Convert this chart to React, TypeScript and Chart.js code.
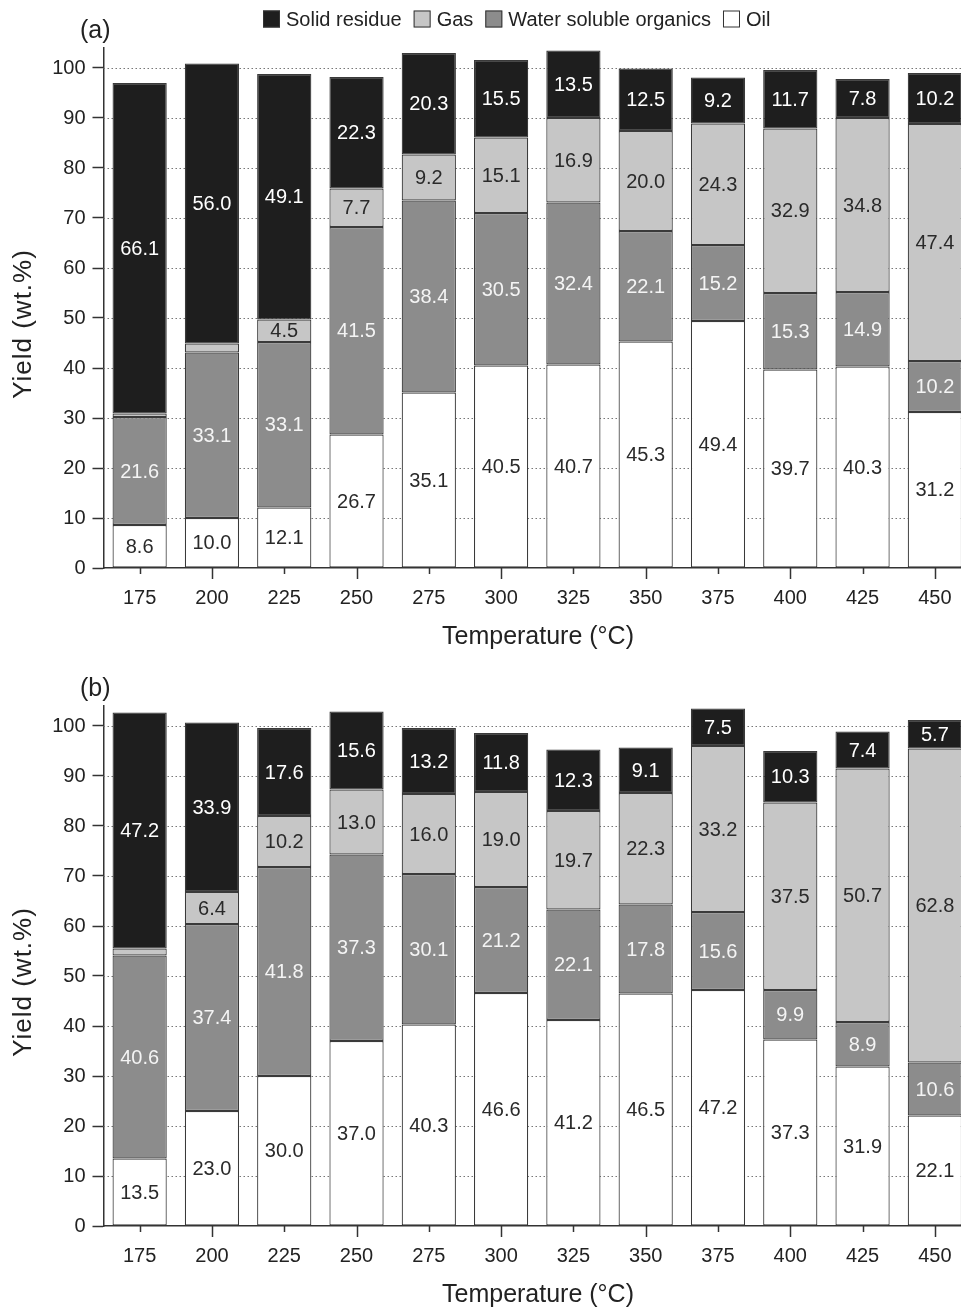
import React, { useEffect, useRef } from 'react';
import { Chart, registerables } from 'chart.js';

Chart.register(...registerables);

// ---------- data ----------
const temperatures = ['175', '200', '225', '250', '275', '300', '325', '350', '375', '400', '425', '450'];

const oilA = [8.6, 10.0, 12.1, 26.7, 35.1, 40.5, 40.7, 45.3, 49.4, 39.7, 40.3, 31.2];
const wsoA = [21.6, 33.1, 33.1, 41.5, 38.4, 30.5, 32.4, 22.1, 15.2, 15.3, 14.9, 10.2];
const gasA = [0.7, 1.8, 4.5, 7.7, 9.2, 15.1, 16.9, 20.0, 24.3, 32.9, 34.8, 47.4];
const solidA = [66.1, 56.0, 49.1, 22.3, 20.3, 15.5, 13.5, 12.5, 9.2, 11.7, 7.8, 10.2];

const oilB = [13.5, 23.0, 30.0, 37.0, 40.3, 46.6, 41.2, 46.5, 47.2, 37.3, 31.9, 22.1];
const wsoB = [40.6, 37.4, 41.8, 37.3, 30.1, 21.2, 22.1, 17.8, 15.6, 9.9, 8.9, 10.6];
const gasB = [1.4, 6.4, 10.2, 13.0, 16.0, 19.0, 19.7, 22.3, 33.2, 37.5, 50.7, 62.8];
const solidB = [47.2, 33.9, 17.6, 15.6, 13.2, 11.8, 12.3, 9.1, 7.5, 10.3, 7.4, 5.7];

const yTicks = [0, 10, 20, 30, 40, 50, 60, 70, 80, 90, 100];
const yMax = 104;

const seriesNames = ['Oil', 'Water soluble organics', 'Gas', 'Solid residue'];
const legendOrder = [3, 2, 1, 0];
const fillColors = ['#ffffff', '#8c8c8c', '#c6c6c6', '#1e1e1e'];
const labelColors = ['#2a2a2a', '#f4f4f4', '#2a2a2a', '#ffffff'];

const xTitle = 'Temperature (°C)';
const yTitle = 'Yield (wt.%)';

const FONT = '"Liberation Sans", Arial, Helvetica, sans-serif';

function makePlugin(panelLabel: string, showLegend: boolean) {
  return {
    id: 'customDraw',
    beforeDatasetsDraw(chart: any) {
      const { ctx, chartArea, scales } = chart;
      const y = scales.y;
      ctx.save();
      ctx.strokeStyle = '#777';
      ctx.lineWidth = 1;
      ctx.setLineDash([1.5, 2.5]);
      yTicks.forEach((v) => {
        if (v === 0) return;
        const py = Math.round(y.getPixelForValue(v)) + 0.5;
        ctx.beginPath();
        ctx.moveTo(chartArea.left, py);
        ctx.lineTo(chartArea.right, py);
        ctx.stroke();
      });
      ctx.restore();
    },
    afterDatasetsDraw(chart: any) {
      const { ctx, chartArea, scales } = chart;
      const x = scales.x;
      ctx.save();
      // data labels
      ctx.font = `20px ${FONT}`;
      ctx.textAlign = 'center';
      ctx.textBaseline = 'middle';
      chart.data.datasets.forEach((ds: any, di: number) => {
        const meta = chart.getDatasetMeta(di);
        meta.data.forEach((bar: any, i: number) => {
          const v = ds.data[i];
          if (v < 3) return;
          const p = bar.getProps(['x', 'y', 'base'], true);
          ctx.fillStyle = labelColors[di];
          ctx.fillText(v.toFixed(1), p.x, (p.y + p.base) / 2 + 1);
        });
      });
      // x tick marks (alternating length)
      ctx.strokeStyle = '#333';
      ctx.lineWidth = 1.5;
      temperatures.forEach((_, i) => {
        const px = Math.round(x.getPixelForValue(i)) + 0.5;
        const len = i % 2 === 1 ? 11 : 6;
        ctx.beginPath();
        ctx.moveTo(px, chartArea.bottom);
        ctx.lineTo(px, chartArea.bottom + len);
        ctx.stroke();
      });
      // x title
      ctx.fillStyle = '#222';
      ctx.font = `25px ${FONT}`;
      ctx.textAlign = 'center';
      ctx.textBaseline = 'middle';
      ctx.fillText(xTitle, 538, chartArea.bottom + 69);
      // y title
      ctx.save();
      ctx.translate(24, 324);
      ctx.rotate(-Math.PI / 2);
      ctx.font = `26px ${FONT}`;
      try {
        (ctx as any).letterSpacing = '1px';
      } catch (e) {}
      ctx.fillText(yTitle, 0, 0);
      ctx.restore();
      // panel label
      ctx.font = `25px ${FONT}`;
      ctx.textAlign = 'left';
      ctx.fillText(panelLabel, 80, 31);
      // legend
      if (showLegend) {
        ctx.font = `20px ${FONT}`;
        ctx.textBaseline = 'middle';
        let lx = 263;
        const cy = 19;
        legendOrder.forEach((di) => {
          ctx.fillStyle = fillColors[di];
          ctx.fillRect(lx, cy - 8.5, 17, 17);
          ctx.strokeStyle = '#333';
          ctx.lineWidth = 1;
          ctx.strokeRect(lx + 0.5, cy - 8, 16, 16);
          lx += 17 + 6;
          ctx.fillStyle = '#222';
          ctx.fillText(seriesNames[di], lx, cy + 1);
          lx += ctx.measureText(seriesNames[di]).width + 12;
        });
      }
      ctx.restore();
    },
  };
}

function buildConfig(oil: number[], wso: number[], gas: number[], solid: number[], panelLabel: string, showLegend: boolean): any {
  const series = [oil, wso, gas, solid];
  return {
    type: 'bar',
    data: {
      labels: temperatures,
      datasets: series.map((d, i) => ({
        label: seriesNames[i],
        data: d,
        backgroundColor: fillColors[i],
        borderColor: '#3a3a3a',
        borderWidth: 1.2,
        borderSkipped: false,
        categoryPercentage: 1,
        barPercentage: 0.75,
      })),
    },
    options: {
      responsive: false,
      animation: false,
      layout: { padding: { top: 48, right: 4, left: 0, bottom: 0 } },
      plugins: { legend: { display: false }, tooltip: { enabled: false } },
      scales: {
        x: {
          stacked: true,
          grid: { display: false },
          border: { display: true, color: '#333', width: 1.5 },
          ticks: { color: '#222', font: { family: FONT, size: 20 }, padding: 10, maxRotation: 0, autoSkip: false },
          afterFit: (s: any) => {
            s.height = 87;
          },
        },
        y: {
          stacked: true,
          min: 0,
          max: yMax,
          afterBuildTicks: (s: any) => {
            s.ticks = yTicks.map((v) => ({ value: v }));
          },
          grid: { display: true, drawOnChartArea: false, drawTicks: true, tickLength: 11, tickColor: '#333', tickWidth: 1.5, color: '#333' },
          border: { display: true, color: '#333', width: 1.5 },
          ticks: { color: '#222', font: { family: FONT, size: 20 }, padding: 7 },
          afterFit: (s: any) => {
            s.width = 103.5;
          },
        },
      },
    },
    plugins: [makePlugin(panelLabel, showLegend)],
  };
}

function Panel(props: { top: number; cfg: () => any }) {
  const ref = useRef<HTMLCanvasElement>(null);
  useEffect(() => {
    if (!ref.current) return;
    const chart = new Chart(ref.current, props.cfg());
    return () => chart.destroy();
  }, []);
  return (
    <canvas
      ref={ref}
      width={975}
      height={655}
      style={{ position: 'absolute', left: 0, top: props.top, width: 975, height: 655 }}
    />
  );
}

export default function App() {
  return (
    <div style={{ position: 'absolute', left: 0, top: 0, width: 961, height: 1309, overflow: 'hidden', background: '#fff' }}>
      <Panel top={0} cfg={() => buildConfig(oilA, wsoA, gasA, solidA, '(a)', true)} />
      <Panel top={658} cfg={() => buildConfig(oilB, wsoB, gasB, solidB, '(b)', false)} />
    </div>
  );
}
